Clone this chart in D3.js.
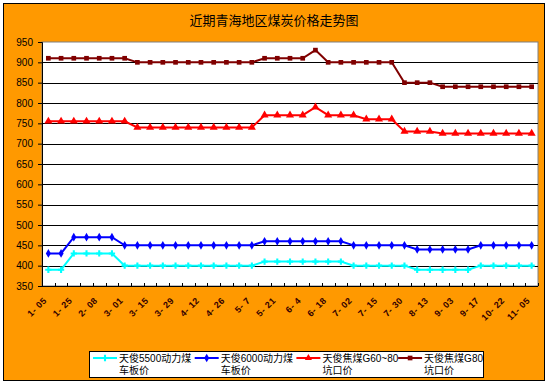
<!DOCTYPE html>
<html>
<head>
<meta charset="utf-8">
<script src="https://cdn.jsdelivr.net/npm/d3@7"></script>
<style>
  body { margin: 0; background: #fff; }
  svg text { font-family: "Liberation Sans", Arial, "Noto Sans CJK SC", sans-serif; }
</style>
</head>
<body>
<div id="chart"></div>
<script>
const svgWidth = 548
const svgHeight = 384

// 39 weekly readings, only every other one is labelled on the axis
const dateLabels = ["1- 05", "1- 25", "2- 08", "3- 01", "3- 15", "3- 29", "4- 12", "4- 26", "5- 7", "5- 21",
  "6- 4", "6- 18", "7- 02", "7- 15", "7- 30", "8- 13", "9- 03", "9- 17", "10- 22", "11- 05"]

const yTicks = [350, 400, 450, 500, 550, 600, 650, 700, 750, 800, 850, 900, 950]

const steam5500 = [390, 390, 430, 430, 430, 430, 400, 400, 400, 400, 400, 400, 400, 400, 400, 400, 400,
  410, 410, 410, 410, 410, 410, 410, 400, 400, 400, 400, 400, 390, 390, 390, 390, 390, 400, 400, 400, 400, 400]
const steam6000 = [430, 430, 470, 470, 470, 470, 450, 450, 450, 450, 450, 450, 450, 450, 450, 450, 450,
  460, 460, 460, 460, 460, 460, 460, 450, 450, 450, 450, 450, 440, 440, 440, 440, 440, 450, 450, 450, 450, 450]
const coking6080 = [755, 755, 755, 755, 755, 755, 755, 740, 740, 740, 740, 740, 740, 740, 740, 740, 740,
  770, 770, 770, 770, 790, 770, 770, 770, 760, 760, 760, 730, 730, 730, 725, 725, 725, 725, 725, 725, 725, 725]
const coking80 = [910, 910, 910, 910, 910, 910, 910, 900, 900, 900, 900, 900, 900, 900, 900, 900, 900,
  910, 910, 910, 910, 930, 900, 900, 900, 900, 900, 900, 850, 850, 850, 840, 840, 840, 840, 840, 840, 840, 840]

const seriesNames = ["天俊5500动力煤\n车板价", "天俊6000动力煤\n车板价", "天俊焦煤G60~80\n坑口价", "天俊焦煤G80\n坑口价"]
const seriesColors = ["#00FFFF", "#0000FF", "#FF0000", "#800000"]
const seriesSymbols = [d3.symbolCross, d3.symbolDiamond, d3.symbolTriangle, d3.symbolSquare]
const seriesData = [steam5500, steam6000, coking6080, coking80]

let margin = { top: 42, right: 10, bottom: 98, left: 42 }
let width = 538 - margin.left
let height = 286 - margin.top

let svg = d3.select("#chart").append("svg")
  .attr("width", svgWidth)
  .attr("height", svgHeight)

// orange frame
svg.append("rect")
  .attr("x", 3.5).attr("y", 3.5)
  .attr("width", 541).attr("height", 377)
  .attr("fill", "#FF9900")
  .attr("stroke", "#000")

svg.append("text")
  .attr("x", 274).attr("y", 25)
  .attr("text-anchor", "middle")
  .attr("font-size", 13)
  .attr("fill", "#000")
  .text("近期青海地区煤炭价格走势图")

let chartGroup = svg.append("g")
  .attr("transform", `translate(${margin.left}, ${margin.top})`)

let n = steam5500.length
let x = d3.scaleBand().domain(d3.range(n)).range([0, width])
let y = d3.scaleLinear().domain([350, 950]).range([height, 0])

chartGroup.append("rect")
  .attr("width", width).attr("height", height)
  .attr("fill", "#fff")
  .attr("stroke", "#808080")

// gridlines
chartGroup.append("g")
  .selectAll("line")
  .data(yTicks.slice(1, -1))
  .enter().append("line")
  .attr("x1", 0).attr("x2", width)
  .attr("y1", d => Math.round(y(d)) + 0.5)
  .attr("y2", d => Math.round(y(d)) + 0.5)
  .attr("stroke", "#000")

let leftAxis = d3.axisLeft(y).tickValues(yTicks).tickSize(4).tickPadding(5)
let yAxis = chartGroup.append("g").call(leftAxis)
yAxis.select(".domain").attr("stroke", "#000")
yAxis.selectAll("text").attr("font-size", 10).attr("fill", "#000")

// bottom axis with inner ticks on category boundaries
chartGroup.append("line")
  .attr("x1", 0).attr("x2", width)
  .attr("y1", height + 0.5).attr("y2", height + 0.5)
  .attr("stroke", "#000")
chartGroup.append("g")
  .selectAll("line")
  .data(d3.range(n + 1))
  .enter().append("line")
  .attr("x1", d => Math.round(d * x.step()) + 0.5)
  .attr("x2", d => Math.round(d * x.step()) + 0.5)
  .attr("y1", height).attr("y2", height - 3)
  .attr("stroke", "#000")

chartGroup.append("g")
  .selectAll("text")
  .data(dateLabels)
  .enter().append("text")
  .attr("transform", (d, i) => `translate(${x(i * 2) + x.bandwidth() / 2 - 1}, ${height + 15}) rotate(-45)`)
  .attr("text-anchor", "end")
  .attr("font-size", 9)
  .attr("font-weight", "bold")
  .attr("letter-spacing", 0.5)
  .attr("fill", "#330000")
  .text(d => d)

let line = d3.line()
  .x((d, i) => x(i) + x.bandwidth() / 2)
  .y(d => y(d))

seriesData.forEach((vals, s) => {
  let g = chartGroup.append("g")
  g.append("path")
    .attr("d", line(vals))
    .attr("fill", "none")
    .attr("stroke", seriesColors[s])
    .attr("stroke-width", 2)
  g.selectAll("path.pt")
    .data(vals)
    .enter().append("path")
    .attr("class", "pt")
    .attr("transform", (d, i) => `translate(${x(i) + x.bandwidth() / 2}, ${y(d)})`)
    .attr("d", d3.symbol().type(seriesSymbols[s]).size(s === 2 ? 28 : 22))
    .attr("fill", seriesColors[s])
})

// legend
let legend = svg.append("g").attr("transform", "translate(89, 351)")
legend.append("rect")
  .attr("x", 0.5).attr("y", 0.5)
  .attr("width", 394).attr("height", 26)
  .attr("fill", "#fff")
  .attr("stroke", "#000")

seriesNames.forEach((name, s) => {
  let item = legend.append("g").attr("transform", `translate(${4 + s * 101.7}, 0)`)
  item.append("line")
    .attr("x1", 0).attr("x2", 24)
    .attr("y1", 7).attr("y2", 7)
    .attr("stroke", seriesColors[s])
    .attr("stroke-width", 2)
  item.append("path")
    .attr("transform", "translate(12, 7)")
    .attr("d", d3.symbol().type(seriesSymbols[s]).size(22))
    .attr("fill", seriesColors[s])
  name.split("\n").forEach((t, k) => {
    item.append("text")
      .attr("x", 26).attr("y", 11 + k * 12)
      .attr("font-size", 10)
      .attr("fill", "#000")
      .text(t)
  })
})
</script>
</body>
</html>
